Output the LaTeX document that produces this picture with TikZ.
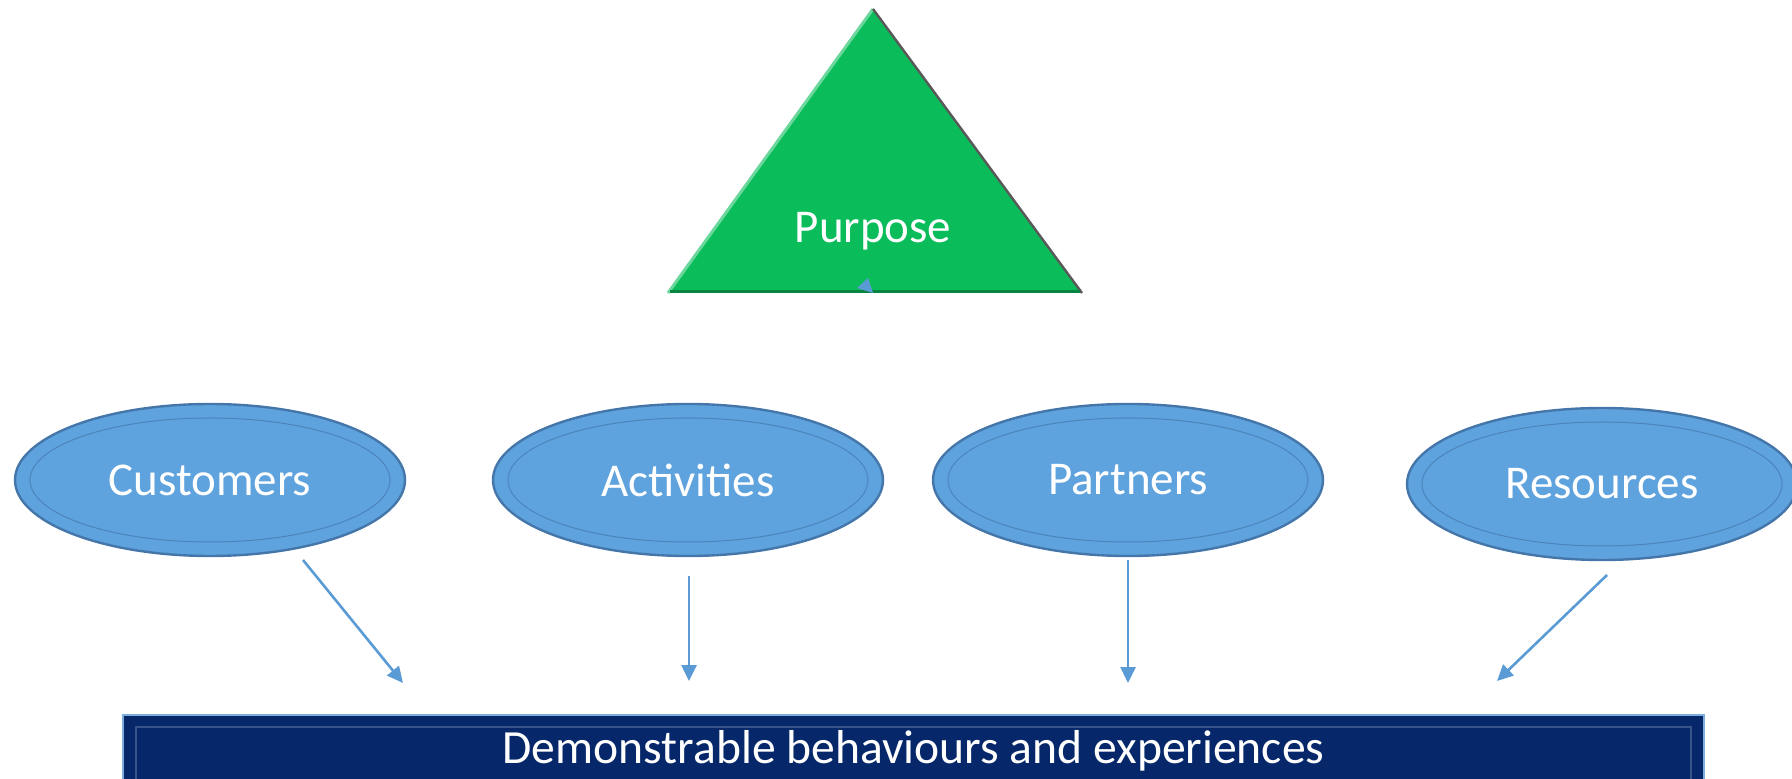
\documentclass[tikz,border=0pt]{standalone}
\usepackage{fontspec}
\setmainfont{Carlito}
\usetikzlibrary{arrows.meta,shapes.geometric}
\definecolor{PurposeGreen}{RGB}{10,189,90}
\definecolor{BubbleBlue}{RGB}{95,163,222}
\definecolor{BubbleEdge}{RGB}{68,118,170}
\definecolor{NavyBar}{RGB}{6,40,106}
\definecolor{FlowBlue}{RGB}{91,155,213}

\begin{document}
\begin{tikzpicture}[x=0.5pt, y=-0.5pt,
		bubble/.style={ellipse, fill=BubbleBlue, draw=BubbleEdge, line width=1.2pt,
			minimum width=195pt, minimum height=76pt, text=white,
			font=\fontsize{23.5}{28}\selectfont},
		flow/.style={draw=FlowBlue, line width=1.3pt, -{Triangle[length=8pt,width=7.5pt]}}]
		\useasboundingbox (0,0) rectangle (1792,779);
		\clip (0,0) rectangle (1792,779);
		% purpose triangle
		\fill[PurposeGreen] (873,9) -- (1082,293) -- (668,293) -- cycle;
		\draw[PurposeGreen!60!white, line width=1.5pt] (668,293) -- (873,9);
		\draw[gray!70!black, line width=1.2pt] (873,9) -- (1082,293);
		\draw[PurposeGreen!70!black, line width=1.5pt] (670,292) -- (1080,292);
		\node[text=white, font=\fontsize{23.5}{28}\selectfont] (purp) at (873,231) {Purpose};
		\fill[FlowBlue] (868,278) -- (857,288) -- (873,293) -- cycle;
		% the four ellipses
		\node[bubble] (cust) at (210,480) {Customers};
		\node[bubble] (actv) at (688,480) {Activities};
		\node[bubble] (partn) at (1128,480) {Partners};
		\node[bubble] (resrc) at (1602,484) {Resources};
		\foreach \e in {cust,actv,partn,resrc}
			\draw[BubbleEdge!70!BubbleBlue, line width=0.5pt] (\e.center) ellipse [x radius=180, y radius=62];
		% bottom bar
		\node[rectangle, fill=NavyBar, draw=FlowBlue!80!white, line width=1pt,
			minimum width=790.5pt, minimum height=36pt, text=white,
			font=\fontsize{23.8}{28}\selectfont] (demo) at (913.5,751) {Demonstrable behaviours and experiences};
		\draw[NavyBar!80!white, line width=0.6pt] (136,790) -- (136,727) -- (1691,727) -- (1691,790);
		% arrows down to the bar
		\coordinate (c1) at (303,560);
		\coordinate (c2) at (403,683);
		\coordinate (a1) at (689,576);
		\coordinate (a2) at (689,681);
		\coordinate (p1) at (1128,560);
		\coordinate (p2) at (1128,683);
		\coordinate (r1) at (1607,575);
		\coordinate (r2) at (1497,681);
		\draw[flow] (c1) -- (c2);
		\draw[flow] (a1) -- (a2);
		\draw[flow] (p1) -- (p2);
		\draw[flow] (r1) -- (r2);
	\end{tikzpicture}
\end{document}
